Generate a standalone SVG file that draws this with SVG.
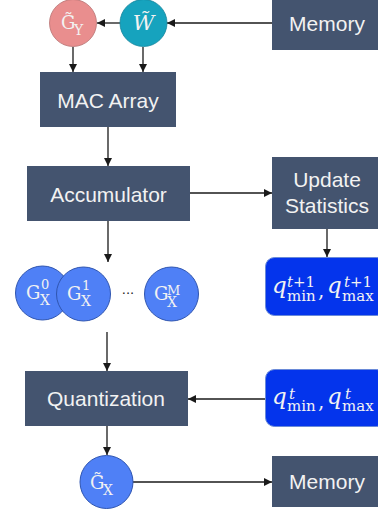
<svg xmlns="http://www.w3.org/2000/svg" width="378" height="514" viewBox="0 0 378 514">
<style>
.box{fill:#44546F}
.lbl{font-family:"Liberation Sans",Arial,sans-serif;font-size:21px;fill:#F2F2F2;text-anchor:middle}
.m{font-family:"DejaVu Serif","Liberation Serif",serif;fill:#F2F2F2}
.big{font-size:18px}
.sm{font-size:14px}
.qq{font-size:23px;font-style:italic}
.ss{font-size:15px}
.gx{fill:#4F80F6;stroke:#2F55B0;stroke-width:1}
.qbox{fill:#0434EC;stroke:#6A8AD8;stroke-width:1}
.ln{stroke:#1a1a1a;stroke-width:1.3;fill:none}
</style>
<defs>
<marker id="ah" viewBox="0 0 10 10" refX="10" refY="5" markerWidth="8" markerHeight="8" markerUnits="userSpaceOnUse" orient="auto">
<path d="M0,0 L10,5 L0,10 z" fill="#1a1a1a"/>
</marker>
</defs>
<g id="connectors">
<line class="ln" x1="272" y1="23" x2="167" y2="23" marker-end="url(#ah)"/>
<line class="ln" x1="120" y1="23" x2="97" y2="23" marker-end="url(#ah)"/>
<line class="ln" x1="73" y1="47" x2="73" y2="72" marker-end="url(#ah)"/>
<line class="ln" x1="143" y1="47" x2="143" y2="72" marker-end="url(#ah)"/>
<line class="ln" x1="108" y1="127" x2="108" y2="166" marker-end="url(#ah)"/>
<line class="ln" x1="190" y1="193" x2="272" y2="193" marker-end="url(#ah)"/>
<line class="ln" x1="327" y1="229" x2="327" y2="257" marker-end="url(#ah)"/>
<line class="ln" x1="108" y1="221" x2="108" y2="262" marker-end="url(#ah)"/>
<line class="ln" x1="107" y1="332" x2="107" y2="371" marker-end="url(#ah)"/>
<line class="ln" x1="265" y1="399" x2="188" y2="399" marker-end="url(#ah)"/>
<line class="ln" x1="107" y1="426" x2="107" y2="455" marker-end="url(#ah)"/>
<line class="ln" x1="133" y1="482" x2="272" y2="482" marker-end="url(#ah)"/>
</g>
<g id="gy">
<circle cx="73" cy="23" r="23.5" fill="#E98E8E" stroke="#B87272" stroke-width="0.8"/>
<text class="m big" x="61" y="29">G̃</text>
<text class="m sm" x="74" y="35">Y</text>
</g>
<g id="w">
<circle cx="143.5" cy="23" r="23.5" fill="#16A3BE" stroke="#12839A" stroke-width="0.8"/>
<text class="m" x="143.5" y="30" font-size="21" font-style="italic" text-anchor="middle">W̃</text>
</g>
<g id="memory-top">
<rect class="box" x="272" y="0" width="106" height="50"/>
<text class="lbl" x="327" y="31">Memory</text>
</g>
<g id="mac">
<rect class="box" x="40" y="72" width="136" height="55"/>
<text class="lbl" x="108" y="108">MAC Array</text>
</g>
<g id="accumulator">
<rect class="box" x="27" y="166" width="163" height="55"/>
<text class="lbl" x="108.5" y="202">Accumulator</text>
</g>
<g id="update">
<rect class="box" x="272" y="157" width="106" height="72"/>
<text class="lbl" x="327" y="187">Update</text>
<text class="lbl" x="327" y="213">Statistics</text>
</g>
<g id="q-next">
<rect class="qbox" x="265.5" y="257.5" width="120" height="58" rx="9"/>
<text class="m qq" x="272" y="293">q</text>
<text class="m ss" x="287" y="287"><tspan font-style="italic">t</tspan>+1</text>
<text class="m ss" x="287" y="301">min</text>
<text class="m" x="318" y="297" font-size="20">,</text>
<text class="m qq" x="327" y="293">q</text>
<text class="m ss" x="344" y="287"><tspan font-style="italic">t</tspan>+1</text>
<text class="m ss" x="342" y="301">max</text>
</g>
<g id="gx0">
<circle class="gx" cx="42.5" cy="293" r="27"/>
<text class="m big" x="26" y="299">G</text>
<text class="m" x="41" y="289" font-size="13">0</text>
<text class="m sm" x="40" y="305">X</text>
</g>
<g id="gx1">
<circle class="gx" cx="83.5" cy="294" r="27"/>
<text class="m big" x="67" y="300">G</text>
<text class="m" x="82" y="290" font-size="13">1</text>
<text class="m sm" x="81" y="306">X</text>
</g>
<text id="dots" x="128" y="298" font-family="DejaVu Sans, sans-serif" font-size="13" fill="#222" text-anchor="middle">···</text>
<g id="gxm">
<circle class="gx" cx="171.5" cy="294" r="27"/>
<text class="m big" x="154" y="300">G</text>
<text class="m" x="167" y="295" font-size="13">M</text>
<text class="m sm" x="167" y="307">X</text>
</g>
<g id="quantization">
<rect class="box" x="25" y="371" width="163" height="55"/>
<text class="lbl" x="106" y="406">Quantization</text>
</g>
<g id="q-t">
<rect class="qbox" x="265.5" y="369.5" width="120" height="57" rx="9"/>
<text class="m qq" x="272" y="404">q</text>
<text class="m ss" x="289" y="399" font-style="italic">t</text>
<text class="m ss" x="287" y="411">min</text>
<text class="m" x="318" y="408" font-size="20">,</text>
<text class="m qq" x="327" y="404">q</text>
<text class="m ss" x="345" y="399" font-style="italic">t</text>
<text class="m ss" x="342" y="411">max</text>
</g>
<g id="gx-tilde">
<circle class="gx" cx="106.5" cy="482" r="26.5"/>
<text class="m big" x="90" y="489">G̃</text>
<text class="m sm" x="103" y="495">X</text>
</g>
<g id="memory-bottom">
<rect class="box" x="272" y="456" width="106" height="51"/>
<text class="lbl" x="327" y="489">Memory</text>
</g>
</svg>
